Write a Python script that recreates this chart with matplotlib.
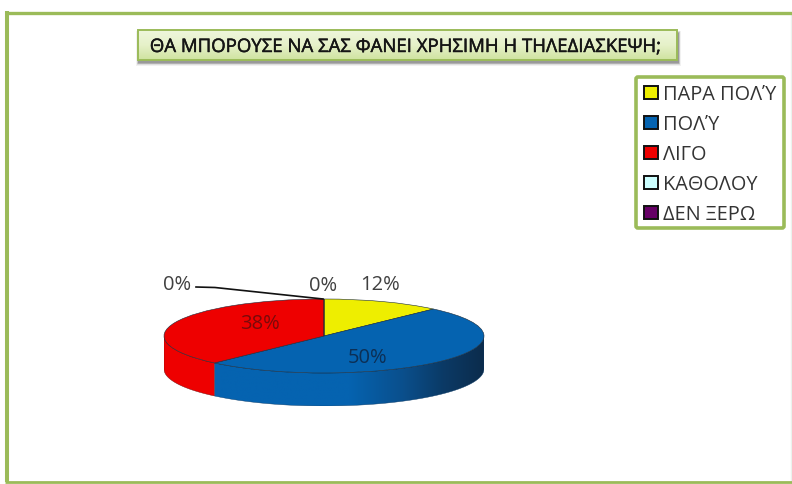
import numpy as np
import matplotlib
matplotlib.use("Agg")
import matplotlib.pyplot as plt
import matplotlib.patheffects as pe
from matplotlib.colors import LinearSegmentedColormap
from matplotlib.patches import Rectangle, FancyBboxPatch, Polygon

title = "ΘΑ ΜΠΟΡΟΥΣΕ ΝΑ ΣΑΣ ΦΑΝΕΙ ΧΡΗΣΙΜΗ Η ΤΗΛΕΔΙΑΣΚΕΨΗ;"
categories = ["ΠΑΡΑ ΠΟΛΎ", "ΠΟΛΎ", "ΛΙΓΟ", "ΚΑΘΟΛΟΥ", "ΔΕΝ ΞΕΡΩ"]
values = [12, 50, 38, 0, 0]
colors = ["#EEEE00", "#0563B0", "#EE0000", "#CCFFFF", "#660066"]

plt.rcParams["font.family"] = ["Open Sans", "DejaVu Sans"]
W, H = 792, 485
GREEN = "#9BBB59"
fig = plt.figure(figsize=(W / 100, H / 100), dpi=100, facecolor="white")
ax = fig.add_axes([0, 0, 1, 1])
ax.set_xlim(0, W)
ax.set_ylim(H, 0)
ax.axis("off")

# outer frame: left, top and bottom green, right edge only a faint line
ax.plot([791, 791], [15, 482], color="#EAF3EE", lw=1)
ax.plot([7, 7], [12, 483], color=GREEN, lw=2.9, solid_capstyle="butt")
ax.plot([5, W], [13.5, 13.5], color=GREEN, lw=2.4, solid_capstyle="butt")
ax.plot([5, W], [483, 483], color=GREEN, lw=2.0, solid_capstyle="butt")

# title box: blurred shadow, then green gradient
for k, a in zip([5, 4, 3, 2, 1], [0.08, 0.12, 0.16, 0.2, 0.25]):
    ax.add_patch(Rectangle((139 - k * 0.6, 34 - k * 0.4), 539 + k * 1.2, 29 + k * 1.2,
                           fc="#555555", ec="none", alpha=a, zorder=1))
grad = np.linspace(0, 1, 64).reshape(-1, 1)
cm = LinearSegmentedColormap.from_list("t", ["#EEF6DC", "#E6F1C9", "#CFE3A0"])
ax.imshow(grad, extent=(138, 677, 61, 31), cmap=cm, aspect="auto", zorder=2)
ax.add_patch(Rectangle((138, 31), 539, 30, fill=False, ec=GREEN, lw=1.4, zorder=3))
ax.text(406, 48, title, ha="center", va="center", fontsize=13.4, color="#151515", zorder=4,
        path_effects=[pe.withStroke(linewidth=0.35, foreground="#151515")])
ax.set_xlim(0, W)
ax.set_ylim(H, 0)

# legend
ax.add_patch(FancyBboxPatch((636, 78), 148, 151, boxstyle="round,pad=0,rounding_size=2",
                            fc="white", ec=GREEN, lw=2.6, zorder=2))
y0, dy = 93, 30
for i, (lab, col) in enumerate(zip(categories, colors)):
    y = y0 + i * dy
    ax.add_patch(Rectangle((644, y - 6.5), 13.5, 13, fc=col, ec="#111111", lw=1.4, zorder=3))
    ax.text(663, y + 2, lab, ha="left", va="center", fontsize=14.3, color="#333333", zorder=3)

# pie: top face radius 160 x 37 px, wall 33 px deep
rx, ry, depth = 160, 37, 33
cx, cy = 324, 337
d = depth / ry
pax = fig.add_axes([(cx - rx) / W, 1 - (cy + ry + depth) / H, 2 * rx / W, (2 * ry + depth) / H])
wedges, _ = pax.pie(values, colors=colors, startangle=90, counterclock=False, radius=1,
                    wedgeprops=dict(ec="#1A2A3A", lw=0.4), center=(0, 0), frame=False, normalize=True)
for w in wedges:
    w.set_zorder(3)
pax.set_aspect("auto")
pax.axis("off")

# side wall, from the same slice angles
fr = np.cumsum([0] + values) / sum(values)
edges = 90 - 360 * fr
def wall(a0, a1):
    t = np.radians(np.linspace(a0, a1, 100))
    xs, ys = np.cos(t), np.sin(t)
    return np.r_[np.c_[xs, ys], np.c_[xs[::-1], ys[::-1] - d]]

pax.add_patch(Polygon(wall(-180, edges[2]), fc="#EE0000", ec="#661111", lw=0.3, zorder=0.5))
blue = Polygon(wall(edges[2], 0), fc="none", ec="#0B3A66", lw=0.3, zorder=1.2)
pax.add_patch(blue)
bcm = LinearSegmentedColormap.from_list(
    "b", [(0, "#0563B0"), (0.5, "#0563B0"), (0.7, "#0A4F8C"), (0.85, "#0B3A66"), (1, "#0C2C4C")])
g = np.linspace(0, 1, 256).reshape(1, -1)
img = pax.imshow(g, extent=(-0.68, 1, -1 - d, 0), cmap=bcm, aspect="auto", zorder=0.9)
img.set_clip_path(blue)
pax.set_aspect("auto")
pax.set_xlim(-1, 1)
pax.set_ylim(-1 - d, 1)

# labels on top
ax.set_zorder(pax.get_zorder() + 1)
ax.patch.set_visible(False)
fs = 14.5
ax.plot([196, 215, 323], [288, 288.5, 300], color="#111111", lw=1.2, zorder=5)
lkw = dict(ha="center", va="center", fontsize=fs, color="#404040", zorder=6)
ax.text(177, 285.5, f"{values[3]}%", **lkw)
ax.text(323, 286.5, f"{values[4]}%", **lkw)
ax.text(380, 285.5, f"{values[0]}%", **lkw)
ax.text(260, 324.5, f"{values[2]}%", ha="center", va="center", fontsize=fs, color="#7A0A0A", zorder=6)
ax.text(368, 358.5, f"{values[1]}%", ha="center", va="center", fontsize=fs, color="#0C2F55", zorder=6)

fig.savefig("out.png", dpi=100)
